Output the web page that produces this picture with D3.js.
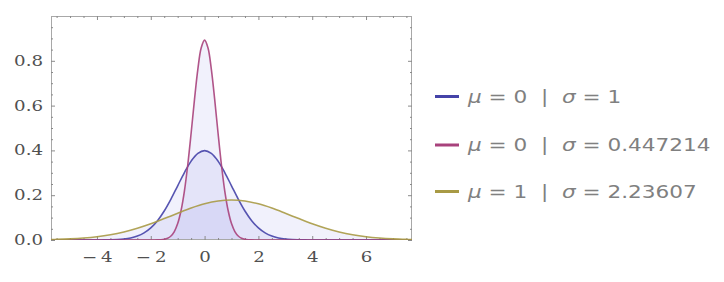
<!DOCTYPE html>
<html><head><meta charset="utf-8">
<script src="https://cdn.jsdelivr.net/npm/d3@7"></script>
<style>body{margin:0;background:#fff}svg{display:block}</style>
</head><body>
<script>
// Series 1: mu=0, sigma=1
const blueX=[-5.708,-4,-3.75,-3.5,-3.25,-3,-2.75,-2.5,-2.25,-2,-1.75,-1.5,-1.25,-1,-0.75,-0.5,-0.25,0,0.25,0.5,0.75,1,1.25,1.5,1.75,2,2.25,2.5,2.75,3,3.25,3.5,3.75,4,7.708];
const blueY=[0,0.0001,0.0004,0.0009,0.0020,0.0044,0.0091,0.0175,0.0317,0.0540,0.0863,0.1295,0.1826,0.2420,0.3011,0.3521,0.3867,0.3989,0.3867,0.3521,0.3011,0.2420,0.1826,0.1295,0.0863,0.0540,0.0317,0.0175,0.0091,0.0044,0.0020,0.0009,0.0004,0.0001,0];
// Series 2: mu=0, sigma=0.447214
const redX=[-5.708,-2,-1.875,-1.75,-1.625,-1.5,-1.375,-1.25,-1.125,-1,-0.875,-0.75,-0.625,-0.5,-0.375,-0.25,-0.125,0,0.125,0.25,0.375,0.5,0.625,0.75,0.875,1,1.125,1.25,1.375,1.5,1.625,1.75,1.875,2,7.708];
const redY=[0,0,0.0001,0.0004,0.0012,0.0032,0.0079,0.0179,0.0377,0.0732,0.1316,0.2186,0.3360,0.4775,0.6276,0.7630,0.8579,0.8921,0.8579,0.7630,0.6276,0.4775,0.3360,0.2186,0.1316,0.0732,0.0377,0.0179,0.0079,0.0032,0.0012,0.0004,0.0001,0,0];
// Series 3: mu=1, sigma=2.23607
const goldX=[-5.708,-5.5,-5,-4.5,-4,-3.5,-3,-2.5,-2,-1.5,-1,-0.5,0,0.5,1,1.5,2,2.5,3,3.5,4,4.5,5,5.5,6,6.5,7,7.5,7.708];
const goldY=[0.0020,0.0026,0.0049,0.0087,0.0146,0.0235,0.0360,0.0524,0.0725,0.0955,0.1196,0.1425,0.1614,0.1740,0.1784,0.1740,0.1614,0.1425,0.1196,0.0955,0.0725,0.0524,0.0360,0.0235,0.0146,0.0087,0.0049,0.0026,0.0020];

const muLabels=["0","0","1"];
const sigmaLabels=["1","0.447214","2.23607"];
const xTicks=[-4,-2,0,2,4,6];
const xTickLabels=["\u2212\u20094","\u2212\u20092","0","2","4","6"];
const yTicks=[0,0.2,0.4,0.6,0.8];
const yTickLabels=["0.0","0.2","0.4","0.6","0.8"];

const colors=["#4543a8","#a8427c","#a89a45"];
const series=[
  {xs:blueX,ys:blueY},
  {xs:redX,ys:redY},
  {xs:goldX,ys:goldY}
];

const W=724,H=282;
const L=51,R=412,T=16,B=240;
const svg=d3.select("body").append("svg").attr("width",W).attr("height",H);
const x=d3.scaleLinear().domain([-5.708,7.708]).range([L,R]);
const y=d3.scaleLinear().domain([0,1]).range([B,T]);

svg.append("clipPath").attr("id","clip").append("rect")
  .attr("x",L).attr("y",T).attr("width",R-L).attr("height",B-T);

const g=svg.append("g").attr("clip-path","url(#clip)");
const area=d3.area().x(d=>x(d[0])).y0(y(0)).y1(d=>y(d[1])).curve(d3.curveCatmullRom);
const line=d3.line().x(d=>x(d[0])).y(d=>y(d[1])).curve(d3.curveCatmullRom);

series.forEach(s=>{
  const pts=s.xs.map((v,i)=>[v,s.ys[i]]);
  g.append("path").attr("d",area(pts)).attr("fill","rgb(120,120,230)").attr("fill-opacity",0.1);
});

// frame
svg.append("rect").attr("x",L+0.5).attr("y",T+0.5).attr("width",R-L-1).attr("height",B-T-1)
  .attr("fill","none").attr("stroke","#a8a8a8").attr("stroke-width",1);

const sx=1.3;
function styleAxis(sel){
  sel.select(".domain").remove();
  sel.selectAll(".tick line").attr("stroke","#8a8a8a");
  sel.selectAll("text").attr("font-family","'DejaVu Serif', serif").attr("font-size",14).attr("fill","#505050");
}
const xMinor=d3.range(-5.5,7.75,0.5).filter(v=>!xTicks.includes(v));
const yMinor=d3.range(0.05,1.0,0.05).filter(v=>!yTicks.some(t=>Math.abs(t-v)<1e-6));

// bottom
svg.append("g").attr("transform",`translate(0,${B})`).call(d3.axisBottom(x).tickValues(xMinor).tickSize(-2).tickFormat("")).call(styleAxis);
svg.append("g").attr("transform",`translate(0,${B})`)
  .call(d3.axisBottom(x).tickValues(xTicks).tickSize(-4).tickPadding(12).tickFormat((d,i)=>xTickLabels[i]))
  .call(styleAxis)
  .call(s=>s.selectAll("text").attr("transform",`scale(${sx},1)`));
// top
svg.append("g").attr("transform",`translate(0,${T})`).call(d3.axisTop(x).tickValues(xMinor).tickSize(-2).tickFormat("")).call(styleAxis);
svg.append("g").attr("transform",`translate(0,${T})`).call(d3.axisTop(x).tickValues(xTicks).tickSize(-4).tickFormat("")).call(styleAxis);
// left
svg.append("g").attr("transform",`translate(${L},0)`).call(d3.axisLeft(y).tickValues(yMinor).tickSize(-2).tickFormat("")).call(styleAxis);
svg.append("g").attr("transform",`translate(${L},0)`)
  .call(d3.axisLeft(y).tickValues(yTicks).tickSize(-4).tickFormat((d,i)=>yTickLabels[i]))
  .call(styleAxis)
  .call(s=>s.selectAll("text").attr("x",-8/sx).attr("transform",`scale(${sx},1)`));
// right
svg.append("g").attr("transform",`translate(${R},0)`).call(d3.axisRight(y).tickValues(yMinor).tickSize(-2).tickFormat("")).call(styleAxis);
svg.append("g").attr("transform",`translate(${R},0)`).call(d3.axisRight(y).tickValues(yTicks).tickSize(-4).tickFormat("")).call(styleAxis);

// lines on top
const gl=svg.append("g").attr("clip-path","url(#clip)");
series.forEach((s,i)=>{
  const pts=s.xs.map((v,j)=>[v,s.ys[j]]);
  gl.append("path").attr("d",line(pts)).attr("fill","none").attr("stroke",colors[i]).attr("stroke-width",1.6).attr("stroke-opacity",0.9);
});

// legend
const ls=1.27;
const legY=[96.5,145,191.5];
const lg=svg.append("g");
series.forEach((s,i)=>{
  const row=lg.append("g").attr("transform",`translate(435,${legY[i]})`);
  row.append("line").attr("x1",0).attr("x2",24).attr("y1",0).attr("y2",0)
    .attr("stroke",colors[i]).attr("stroke-width",3);
  const t=row.append("text").attr("x",33/ls).attr("y",6).attr("transform",`scale(${ls},1)`)
    .attr("font-family","'DejaVu Sans', sans-serif").attr("font-size",17).attr("fill","#808080")
    .attr("xml:space","preserve").style("white-space","pre");
  t.append("tspan").attr("font-style","italic").text("\u03bc");
  t.append("tspan").text(" = "+muLabels[i]+"  |  ");
  t.append("tspan").attr("font-style","italic").text("\u03c3");
  t.append("tspan").text(" = "+sigmaLabels[i]);
});
</script>
</body></html>
